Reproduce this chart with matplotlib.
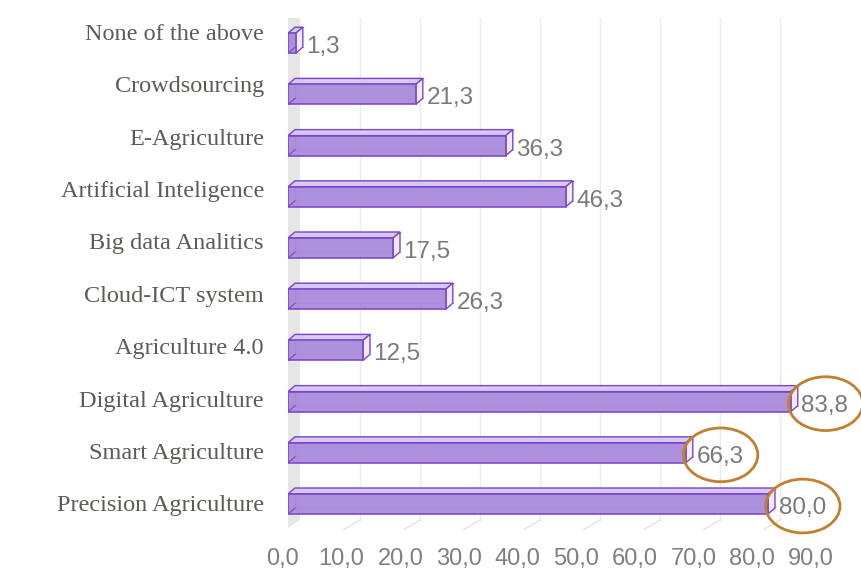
import matplotlib.pyplot as plt
from matplotlib.patches import Polygon, Rectangle, Ellipse

categories = ['Precision Agriculture', 'Smart Agriculture', 'Digital Agriculture',
              'Agriculture 4.0', 'Cloud-ICT system', 'Big data Analitics',
              'Artificial Inteligence', 'E-Agriculture', 'Crowdsourcing',
              'None of the above']
values = [80.0, 66.3, 83.8, 12.5, 26.3, 17.5, 46.3, 36.3, 21.3, 1.3]
highlighted = ['Precision Agriculture', 'Smart Agriculture', 'Digital Agriculture']
ticks = [0, 10, 20, 30, 40, 50, 60, 70, 80, 90]

W, H = 862, 577
fig = plt.figure(figsize=(W / 100, H / 100), dpi=100)

# main axes: 0 at x=288px, 6 px per unit; rows 51.2 px apart
ax = fig.add_axes([288 / W, 47.4 / H, 540 / W, 512 / H])
ax.set_xlim(0, 90)
ax.set_ylim(-0.5, len(categories) - 0.5)
ax.axis('off')

# depth of the fake 3d
dx = 7 / 6
dy = 6 / 51.2

# back wall and gridlines
wall = Polygon([(-1.33, -0.57), (2.0, -0.31), (2.0, 9.65), (-1.33, 9.36)],
               closed=True, facecolor='#E6E6E6', edgecolor='none', zorder=0)
ax.add_patch(wall)
for t in ticks[1:]:
    gx = t + 2.0
    ax.plot([gx, gx], [-0.31, 9.65], color='#EBEBEB', lw=1, zorder=0)
    ax.plot([gx - 2.7, gx], [-0.5, -0.31], color='#E4E4E4', lw=1, zorder=0)

face = '#AA8BDA'
edge = '#7B45C8'
h = 0.39
for i, (cat, v) in enumerate(zip(categories, values)):
    b, t = i - h / 2, i + h / 2
    # back edges visible through the face
    ax.plot([dx, dx, v + dx], [b + dy, t + dy, t + dy], color=edge, lw=0.8, zorder=2)
    ax.plot([dx, v + dx], [b + dy, b + dy], color=edge, lw=0.6, alpha=0.6, zorder=2)
    top = Polygon([(0, t), (v, t), (v + dx, t + dy), (dx, t + dy)], closed=True,
                  facecolor='#D6C8F0', edgecolor=edge, lw=1, zorder=3)
    side = Polygon([(v, b), (v + dx, b + dy), (v + dx, t + dy), (v, t)], closed=True,
                   facecolor='#EFE9F9', edgecolor=edge, lw=1, zorder=3)
    front = Rectangle((0, b), v, t - b, facecolor=face, edgecolor=edge, lw=1.2,
                      alpha=0.95, zorder=4)
    ax.add_patch(top)
    ax.add_patch(side)
    ax.add_patch(front)
    ax.plot([0, dx], [b, b + dy], color=edge, lw=0.8, zorder=4)
    ax.text(v + dx + 0.6, i - 0.08, f'{v:.1f}'.replace('.', ','), ha='left', va='center',
            fontsize=17.5, color='#7A7A7A', family='Liberation Sans', zorder=5)
    ax.text(-4.0, i + (1.2 * i - 2) / 51.2, cat, ha='right', va='center', fontsize=17.5,
            color='#5F5A55', family='Liberation Serif')
    if cat in highlighted:
        ax.add_patch(Ellipse((v + 5.8, i - 0.04), 12.4, 1.05, facecolor='none',
                             edgecolor='#C0802F', lw=2, clip_on=False, zorder=6))

# tick labels along the front floor edge (0 at 283px, 90 at 811px)
ax2 = fig.add_axes([283 / W, 0, 528 / W, 1])
ax2.set_xlim(0, 90)
ax2.set_ylim(0, H)
ax2.axis('off')
for t in ticks:
    ax2.text(t, H - 559, f'{t:.1f}'.replace('.', ','), ha='center', va='center',
             fontsize=17, color='#7F7F7F', family='Liberation Sans')

fig.savefig('out.png', dpi=100)
